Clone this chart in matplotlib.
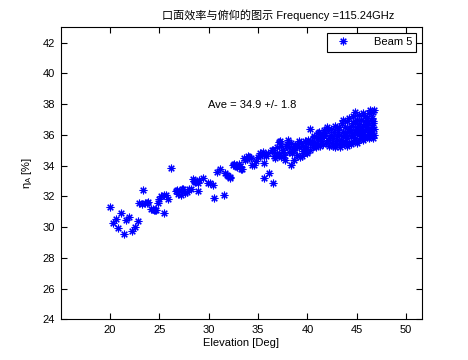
import numpy as np
import matplotlib
matplotlib.use("Agg")
import matplotlib.pyplot as plt

plt.rcParams['font.family'] = ['Liberation Sans', 'Noto Sans CJK SC', 'DejaVu Sans']

# elevation [deg] and aperture efficiency [%] for beam 5
elev = [20.03, 20.34, 20.6, 20.84, 21.15, 21.42, 21.65, 21.96, 22.23, 22.53, 22.83, 22.97,
        23.34, 23.57, 23.88, 24.15, 24.42, 24.66, 24.89, 25.16, 25.43, 25.67, 25.9, 26.17,
        26.68, 26.91, 27.18, 27.42, 27.79, 28.03, 28.37, 28.63, 28.88, 29.04, 29.38, 29.89,
        30.12, 30.39, 30.56, 30.8, 31.1, 31.51, 31.67, 31.91, 32.18, 32.42, 32.75, 33.03,
        33.26, 33.53, 33.83, 34.1, 34.34, 34.6, 34.95, 35.21, 35.46, 35.56, 35.62, 35.79,
        36.06, 36.37, 36.53, 36.63, 36.9, 37.08, 37.31, 37.48, 37.64, 37.82, 38.09, 38.32,
        38.42, 38.66, 38.93, 39.16, 39.26, 39.5, 39.67, 39.84, 40.01, 40.27, 40.42, 40.62,
        40.85, 41.02, 41.29, 41.53, 41.69, 41.94, 42.03, 42.2,
        24.3, 24.55, 23.2, 23.7, 25.0, 25.5, 26.8, 27.3, 27.6, 28.2, 28.5, 28.9,
        31.8, 32.1, 32.6, 32.9, 33.2, 33.4, 33.7, 34.0, 34.3, 34.8, 35.2, 35.6, 36.0,
        36.5, 36.7, 36.9, 37.1, 37.3, 37.5, 37.7, 37.9, 38.1, 38.3, 38.5, 37.2, 38.0,
        38.7, 38.9, 39.1, 39.3, 39.5, 39.7, 39.9, 40.1, 40.3, 38.6, 39.4, 40.0,
        40.5, 40.55, 40.7, 40.75, 41.0, 41.05, 41.2, 41.25, 41.4, 41.45, 41.6, 41.65,
        41.8, 41.85, 42.1, 42.15,
        42.4, 42.45, 42.38, 42.6, 42.65, 42.58, 42.8, 42.85, 42.78, 43.0, 43.05, 42.98,
        43.2, 43.25, 43.18, 43.4, 43.45, 43.38, 43.6, 43.65, 43.58, 43.62,
        43.8, 43.85, 43.78, 44.0, 44.05, 43.98, 44.02, 44.2, 44.25, 44.18,
        44.4, 44.45, 44.38, 44.42, 44.6, 44.65, 44.58, 44.62, 44.8, 44.85, 44.78, 44.82,
        45.0, 45.05, 44.98, 45.02, 45.2, 45.25, 45.18, 45.22, 45.4, 45.45, 45.38, 45.42,
        45.6, 45.65, 45.58, 45.62, 45.55, 45.8, 45.85, 45.78, 45.82,
        46.0, 46.05, 45.98, 46.02, 45.95, 46.2, 46.25, 46.18, 46.22,
        46.4, 46.45, 46.38, 46.42, 46.35, 46.6, 46.65, 46.58, 46.62, 46.55, 46.52,
        46.7, 46.72, 46.68, 46.74]
eta = [31.33, 30.29, 30.5, 29.92, 30.94, 29.53, 30.46, 30.64, 29.74, 30.03, 30.4, 31.55,
       32.39, 31.55, 31.65, 31.16, 31.11, 31.09, 31.59, 32.02, 30.94, 32.09, 31.81, 33.84,
       32.35, 32.15, 32.09, 32.46, 32.3, 32.46, 33.11, 32.95, 32.33, 33.06, 33.21, 32.89,
       32.85, 32.72, 31.89, 33.58, 33.8, 32.09, 33.5, 33.32, 33.28, 34.02, 33.99, 34.1,
       33.78, 34.49, 34.45, 34.54, 34.02, 34.02, 34.58, 34.64, 34.9, 34.15, 33.17, 34.62,
       33.54, 35.01, 32.85, 34.62, 34.8, 35.55, 34.54, 34.9, 34.69, 35.27, 35.23, 34.04,
       34.8, 35.01, 35.41, 35.62, 34.58, 34.97, 35.06, 34.9, 35.45, 36.36, 35.41, 35.84,
       35.23, 36.1, 35.78, 35.99, 36.32, 36.49, 35.66, 35.27,
       31.15, 31.1, 31.5, 31.6, 31.8, 32.1, 32.4, 32.5, 32.2, 32.5, 33.0, 32.9,
       33.4, 33.2, 34.1, 33.9, 34.0, 33.8, 34.4, 34.6, 34.5, 34.3, 34.8, 34.7, 34.85,
       35.0, 34.5, 35.2, 34.7, 35.3, 35.0, 34.4, 35.4, 34.9, 35.5, 35.1, 35.6, 35.7,
       35.3, 34.7, 35.2, 35.5, 35.3, 35.6, 35.2, 35.7, 35.0, 34.4, 34.6, 34.8,
       35.6, 35.2, 35.9, 35.4, 35.5, 35.8, 36.2, 35.3, 35.6, 36.0, 35.4, 35.9,
       36.1, 35.5, 36.3, 35.8,
       36.0, 35.5, 36.4, 35.3, 36.2, 35.8, 36.6, 35.6, 35.2, 35.9, 36.3, 35.4,
       36.0, 35.2, 36.5, 35.7, 36.8, 35.5, 36.2, 35.4, 37.0, 35.9,
       36.5, 35.6, 36.0, 35.3, 36.9, 36.2, 35.8, 36.4, 35.5, 37.1,
       35.9, 36.6, 35.4, 36.2, 37.2, 36.0, 35.6, 36.8, 37.5, 35.8, 36.3, 36.9,
       36.1, 35.5, 37.0, 36.5, 35.7, 36.7, 37.3, 36.2, 36.4, 35.9, 37.0, 36.0,
       35.7, 36.6, 37.4, 36.2, 35.9, 36.9, 36.3, 35.8, 37.2,
       36.5, 37.1, 36.0, 35.9, 36.7, 37.4, 36.2, 36.8, 35.8,
       36.4, 37.0, 37.6, 36.1, 35.9, 37.5, 36.8, 36.3, 35.8, 37.1, 36.5,
       37.6, 36.0, 36.9, 36.4]

xticks = [20, 25, 30, 35, 40, 45, 50]
yticks = [24, 26, 28, 30, 32, 34, 36, 38, 40, 42]

fig = plt.figure(figsize=(4.68, 3.6), dpi=100)
ax = fig.add_axes([0.1297, 0.113, 0.9017 - 0.1297, 0.924 - 0.113])

ax.plot(elev, eta, linestyle='none', marker=(8, 2, 0), color='blue',
        markersize=5.5, markeredgewidth=0.8, label='Beam 5')

ax.set_xlim(15, 51.6)
ax.set_ylim(24, 43)
ax.set_xticks(xticks)
ax.set_yticks(yticks)
ax.tick_params(direction='in', length=4, width=0.8, top=True, right=True, labelsize=8, pad=4)
for s in ax.spines.values():
    s.set_linewidth(0.8)

ax.text(29.9, 37.95, 'Ave = 34.9 +/- 1.8', fontsize=8, ha='left', va='center')
ax.set_xlabel('Elevation [Deg]', fontsize=8, labelpad=2)
ax.set_ylabel('η$_\\mathregular{A}$ [%]', fontsize=8, labelpad=6)

leg = ax.legend(loc='upper right', fontsize=8, fancybox=False, framealpha=1,
                edgecolor='black', borderaxespad=0.5, handletextpad=1.8)
leg.get_frame().set_linewidth(0.8)

fig.text(0.594, 0.958, '口面效率与俯仰的图示 Frequency =115.24GHz', fontsize=8,
         ha='center', va='center')

plt.savefig('out.png', dpi=100)
